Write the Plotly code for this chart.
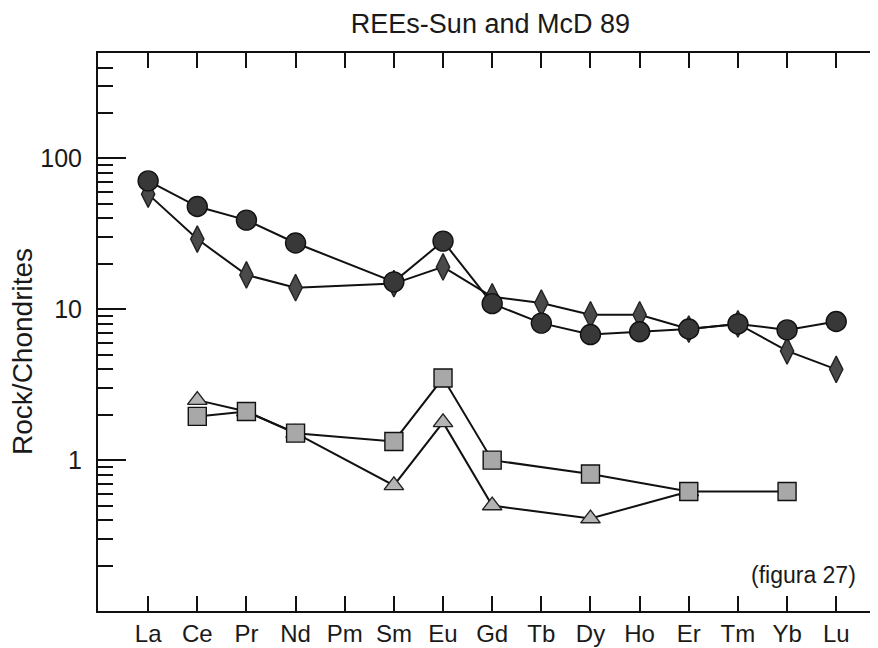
import plotly.graph_objects as go

elements = ["La", "Ce", "Pr", "Nd", "Pm", "Sm", "Eu", "Gd", "Tb", "Dy", "Ho", "Er", "Tm", "Yb", "Lu"]

circles = [71, 48, 39, 27.5, None, 15.2, 28.3, 10.9, 8.1, 6.8, 7.1, 7.4, 8.0, 7.3, 8.3]
diamonds = [58, 29.2, 16.9, 13.9, None, 14.8, 19.1, 12.1, 11.0, 9.2, 9.2, 7.4, 8.0, 5.3, 4.0]
squares = [None, 1.95, 2.1, 1.51, None, 1.33, 3.5, 1.0, None, 0.81, None, 0.62, None, 0.62, None]
triangles = [None, 2.5, 2.1, 1.51, None, 0.68, 1.78, 0.50, None, 0.41, None, 0.62, None, None, None]

major_ticks = [0.1, 1, 10, 100]
major_labels = ["", "1", "10", "100"]
minor_ticks = [m * d for d in (0.1, 1, 10) for m in range(2, 10)] + [200, 300, 400]

FONT = "Liberation Sans, Arial, sans-serif"
INK = "#1a1a1a"

fig = go.Figure()

def add(series, symbol, size, fill, outline):
    fig.add_trace(go.Scatter(
        x=elements, y=series, mode="lines+markers", connectgaps=True,
        line=dict(color="#111111", width=2),
        marker=dict(symbol=symbol, size=size, color=fill,
                    line=dict(color=outline, width=1.4)),
        showlegend=False, hoverinfo="x+y"))

add(triangles, "triangle-up", 17, "#b4b4b4", "#222222")
add(squares, "square", 18, "#a8a8a8", "#111111")
add(diamonds, "diamond-tall", 19, "#4a4a4a", "#222222")
add(circles, "circle", 20, "#383838", "#111111")

# the page body adds an 8px offset, so the figure is 8px smaller than the window
fig.update_layout(
    width=870, height=640,
    margin=dict(l=90, r=0, t=45, b=37, autoexpand=False),
    paper_bgcolor="white", plot_bgcolor="white",
    font=dict(family=FONT, color=INK),
    title=dict(text="REEs-Sun and McD 89", x=0.5545, xanchor="center",
               y=0.976, yanchor="middle", font=dict(size=27, family=FONT, color=INK)),
    xaxis=dict(
        type="category", range=[-1.02, 14.85],
        showline=True, linecolor="#111111", linewidth=2, mirror="ticks",
        ticks="inside", ticklen=15, tickwidth=2, tickcolor="#111111",
        showgrid=False, zeroline=False, automargin=False,
        tickfont=dict(size=24, family=FONT, color=INK),
        ticklabelstandoff=0,
    ),
    yaxis=dict(
        type="log", range=[-1, 2.699],
        showline=True, linecolor="#111111", linewidth=2, mirror=False,
        tickmode="array", tickvals=major_ticks, ticktext=major_labels,
        ticks="inside", ticklen=28, tickwidth=2, tickcolor="#111111",
        minor=dict(tickmode="array", tickvals=minor_ticks, ticks="inside",
                   ticklen=15, tickwidth=2, tickcolor="#111111", showgrid=False),
        showgrid=False, zeroline=False, automargin=False,
        tickfont=dict(size=25, family=FONT, color=INK),
        ticklabelstandoff=9,
    ),
    yaxis2=dict(
        type="log", range=[-1, 2.699], overlaying="y", side="right", anchor="x",
        showline=False, showticklabels=False,
        tickmode="array", tickvals=major_ticks,
        ticks="inside", ticklen=18, tickwidth=2, tickcolor="#111111",
        minor=dict(tickmode="array", tickvals=minor_ticks, ticks="inside",
                   ticklen=5, tickwidth=2, tickcolor="#111111", showgrid=False),
        showgrid=False, zeroline=False,
    ),
    annotations=[
        dict(text="(figura 27)", xref="paper", yref="paper",
             x=0.974, y=0.0645, xanchor="right", yanchor="middle",
             showarrow=False, font=dict(size=23, family=FONT, color=INK)),
        dict(text="Rock/Chondrites", xref="paper", yref="paper", textangle=-90,
             x=-0.0962, y=0.466, xanchor="center", yanchor="middle",
             showarrow=False, font=dict(size=28, family=FONT, color=INK)),
    ],
)

fig.write_html("out.html")
